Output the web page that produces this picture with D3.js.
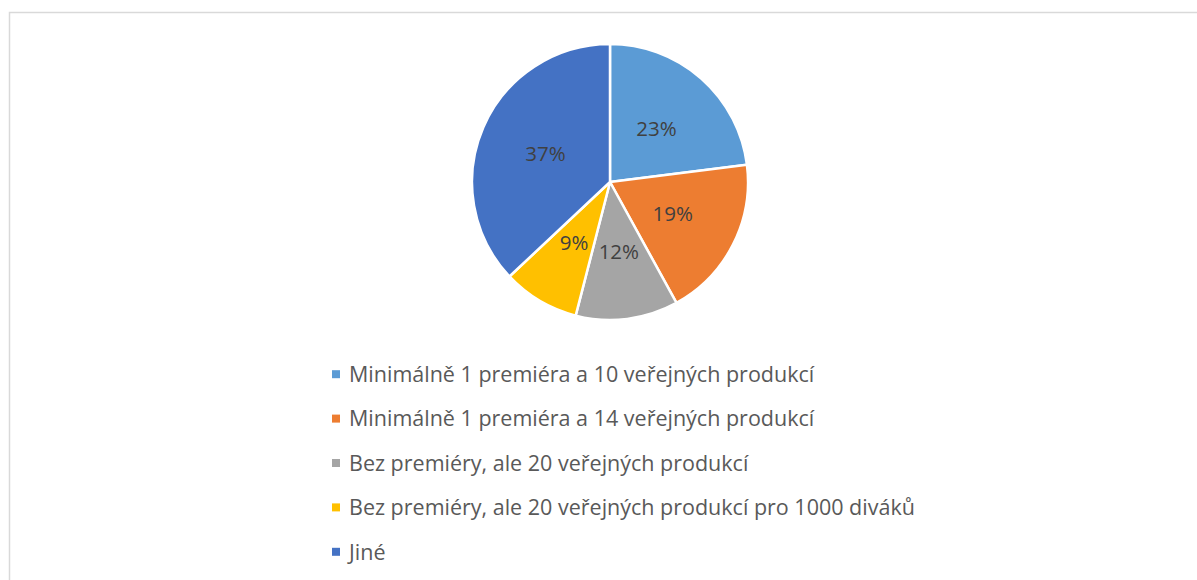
<!DOCTYPE html>
<html>
<head>
<meta charset="utf-8">
<title>Pie</title>
<style>
    html, body {margin: 0px; padding: 0px; overflow: hidden; background: #ffffff;}
    svg {display: block;}
    text {font-family: "Open Sans", sans-serif;}
</style>
</head>
<body>
<div id="chart"></div>
<script src="https://cdn.jsdelivr.net/npm/d3@7/dist/d3.min.js"></script>
<script>
// data
var categories = [
    "Minimálně 1 premiéra a 10 veřejných produkcí",
    "Minimálně 1 premiéra a 14 veřejných produkcí",
    "Bez premiéry, ale 20 veřejných produkcí",
    "Bez premiéry, ale 20 veřejných produkcí pro 1000 diváků",
    "Jiné"
];
var shares = [23, 19, 12, 9, 37];
var colors = ["#5b9bd5", "#ed7d31", "#a5a5a5", "#ffc000", "#4472c4"];

var width = 1197, height = 580;
var cx = 610, cy = 182, radius = 138;

var svg = d3.select("#chart").append("svg")
    .attr("width", width)
    .attr("height", height);

// chart frame
svg.append("rect")
    .attr("x", 9.5).attr("y", 12.5)
    .attr("width", 1200).attr("height", 600)
    .attr("fill", "none")
    .attr("stroke", "#d9d9d9")
    .attr("stroke-width", 1.5);

var data = categories.map(function(c, i) { return {name: c, value: shares[i], color: colors[i]}; });

var pie = d3.pie().sort(null).value(function(d) { return d.value; });
var arc = d3.arc().innerRadius(0).outerRadius(radius);
var labelArc = d3.arc().innerRadius(radius * 0.51).outerRadius(radius * 0.51);

var g = svg.append("g").attr("transform", "translate(" + cx + "," + cy + ")");

var slices = g.selectAll(".slice")
    .data(pie(data))
  .enter().append("g")
    .attr("class", "slice");

slices.append("path")
    .attr("d", arc)
    .attr("fill", function(d) { return d.data.color; })
    .attr("stroke", "#ffffff")
    .attr("stroke-width", 2.5)
    .attr("stroke-linejoin", "round");

slices.append("text")
    .attr("transform", function(d) { return "translate(" + labelArc.centroid(d) + ")"; })
    .attr("text-anchor", "middle")
    .attr("dy", "0.35em")
    .style("font-size", "20.5px")
    .style("fill", "#404040")
    .text(function(d) { return d.data.value + "%"; });

// legend
var legendY = d3.scaleBand()
    .domain(categories)
    .range([352, 574]);

var legend = svg.selectAll(".legend")
    .data(data)
  .enter().append("g")
    .attr("class", "legend")
    .attr("transform", function(d) { return "translate(332," + (legendY(d.name) + legendY.bandwidth() / 2) + ")"; });

legend.append("rect")
    .attr("x", 0).attr("y", -4)
    .attr("width", 8).attr("height", 8)
    .attr("fill", function(d) { return d.color; });

legend.append("text")
    .attr("x", 17)
    .attr("dy", "0.36em")
    .style("font-size", "21.5px")
    .style("fill", "#595959")
    .text(function(d) { return d.name; });
</script>
</body>
</html>
